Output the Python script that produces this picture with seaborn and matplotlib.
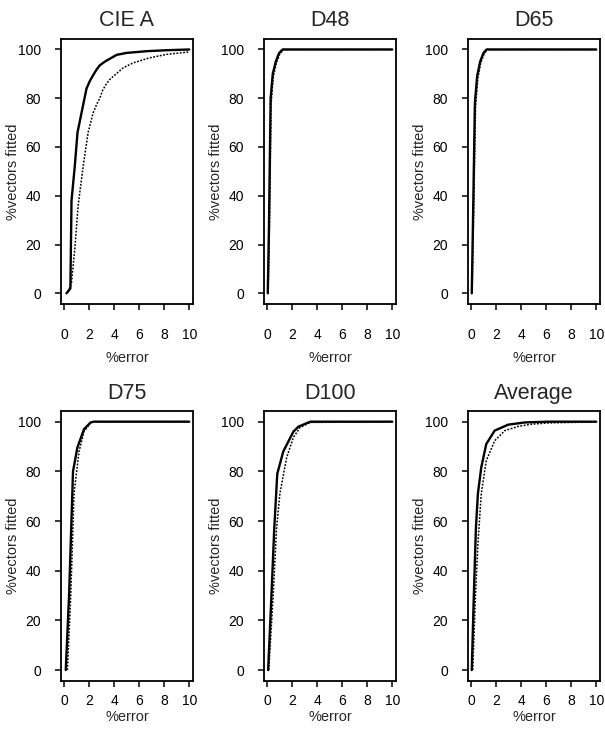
import numpy as np
import pandas as pd
import seaborn as sns
import matplotlib
matplotlib.use("Agg")
import matplotlib.pyplot as plt

# Cumulative error curves: % of vectors fitted within a given % error
panels = ["CIE A", "D48", "D65", "D75", "D100", "Average"]

ciea_err_a = [0.19, 0.5, 0.59, 0.85, 1.07, 1.39, 1.79, 2.05, 2.32, 2.6, 2.85, 3.25, 3.65, 4.2, 5.0, 6.6, 8.2, 10.0]
ciea_fit_a = [0.0, 2.0, 38.0, 52.0, 66.0, 74.0, 84.0, 87.0, 89.5, 91.8, 93.5, 95.0, 96.2, 97.8, 98.6, 99.3, 99.7, 100.0]
ciea_err_b = [0.32, 0.59, 0.85, 1.12, 1.52, 1.92, 2.32, 2.6, 2.85, 3.1, 3.39, 3.7, 4.05, 4.72, 5.52, 6.85, 8.2, 10.0]
ciea_fit_b = [0.4, 4.5, 18.0, 36.0, 52.0, 66.0, 74.0, 77.5, 80.0, 83.5, 86.0, 88.0, 89.5, 92.5, 94.5, 96.6, 98.0, 99.0]

d48_err_a = [0.05, 0.14, 0.28, 0.45, 0.69, 0.95, 1.24, 10.0]
d48_fit_a = [0.0, 25.0, 80.0, 90.0, 95.0, 98.5, 100.0, 100.0]
d48_err_b = [0.08, 0.18, 0.32, 0.5, 0.74, 1.0, 1.3, 10.0]
d48_fit_b = [0.0, 25.0, 78.0, 89.0, 94.5, 98.0, 100.0, 100.0]

d65_err_a = [0.05, 0.15, 0.3, 0.48, 0.72, 0.98, 1.23, 10.0]
d65_fit_a = [0.0, 30.0, 78.0, 89.0, 95.0, 98.5, 100.0, 100.0]
d65_err_b = [0.08, 0.19, 0.35, 0.53, 0.77, 1.02, 1.3, 10.0]
d65_fit_b = [0.0, 30.0, 76.0, 88.0, 94.5, 98.0, 100.0, 100.0]

d75_err_a = [0.13, 0.4, 0.71, 1.06, 1.59, 2.12, 2.38, 10.0]
d75_fit_a = [0.0, 30.6, 80.0, 89.6, 97.0, 99.7, 100.0, 100.0]
d75_err_b = [0.26, 0.53, 0.79, 1.19, 1.59, 2.12, 2.45, 10.0]
d75_fit_b = [0.0, 30.0, 71.0, 88.0, 96.0, 99.6, 100.0, 100.0]

d100_err_a = [0.08, 0.35, 0.57, 0.81, 1.29, 2.1, 2.5, 3.45, 10.0]
d100_fit_a = [0.0, 30.6, 57.0, 79.0, 88.0, 96.0, 98.0, 100.0, 100.0]
d100_err_b = [0.13, 0.49, 0.75, 1.02, 1.56, 2.1, 2.64, 3.45, 10.0]
d100_fit_b = [0.0, 30.6, 57.0, 71.0, 85.6, 93.7, 97.7, 99.7, 100.0]

avg_err_a = [0.05, 0.22, 0.38, 0.54, 0.81, 1.21, 1.88, 2.96, 4.3, 6.18, 10.0]
avg_fit_a = [0.0, 30.6, 57.0, 71.0, 81.6, 91.0, 96.4, 98.8, 99.7, 100.0, 100.0]
avg_err_b = [0.13, 0.35, 0.54, 0.81, 1.21, 1.88, 2.69, 3.76, 4.84, 6.18, 10.0]
avg_fit_b = [0.0, 30.6, 50.7, 71.0, 84.3, 92.3, 96.4, 98.1, 99.0, 99.5, 99.9]

curves = {
    "CIE A": (ciea_err_a, ciea_fit_a, ciea_err_b, ciea_fit_b),
    "D48": (d48_err_a, d48_fit_a, d48_err_b, d48_fit_b),
    "D65": (d65_err_a, d65_fit_a, d65_err_b, d65_fit_b),
    "D75": (d75_err_a, d75_fit_a, d75_err_b, d75_fit_b),
    "D100": (d100_err_a, d100_fit_a, d100_err_b, d100_fit_b),
    "Average": (avg_err_a, avg_fit_a, avg_err_b, avg_fit_b),
}

x_ticks = [0, 2, 4, 6, 8, 10]
y_ticks = [0, 20, 40, 60, 80, 100]

sns.set_style("ticks")
plt.rcParams["font.family"] = ["Liberation Sans", "DejaVu Sans"]
plt.rcParams["axes.linewidth"] = 1.3
plt.rcParams["xtick.major.width"] = 1.1
plt.rcParams["ytick.major.width"] = 1.1

W, H = 605, 732
fig = plt.figure(figsize=(W / 100, H / 100), dpi=100)

col_left = [61, 264, 468]
col_width = 132
rows = [(39, 304), (411, 681)]
# per-row spacing of x tick labels and x-axis label (points)
x_tick_pad = [13.5, 5.5]
x_label_pad = [6.5, 1.0]
title_pad = [9.5, 8.5]

for i, name in enumerate(panels):
    r, c = divmod(i, 3)
    top, bottom = rows[r]
    ax = fig.add_axes([col_left[c] / W, 1 - bottom / H, col_width / W, (bottom - top) / H])
    ea, fa, eb, fb = curves[name]
    sns.lineplot(x=eb, y=fb, ax=ax, color="black", linewidth=1.1,
                 linestyle=(0, (1.2, 1.0)), estimator=None, sort=False)
    sns.lineplot(x=ea, y=fa, ax=ax, color="black", linewidth=1.7,
                 estimator=None, sort=False)
    ax.set_xlim(-0.25, 10.3)
    ax.set_ylim(-4.4, 104.3)
    ax.set_xticks(x_ticks)
    ax.set_yticks(y_ticks)
    ax.tick_params(axis="both", direction="out", length=4, labelsize=10, colors="black")
    ax.tick_params(axis="x", pad=x_tick_pad[r])
    ax.tick_params(axis="y", pad=10.5)
    for s in ax.spines.values():
        s.set_visible(True)
        s.set_color("black")
    ax.set_title(name, fontsize=15.5, pad=title_pad[r])
    ax.set_xlabel("%error", fontsize=10.5, labelpad=x_label_pad[r])
    ax.set_ylabel("%vectors fitted", fontsize=10.5)
    ax.yaxis.set_label_coords(-41 / col_width, 0.5)

fig.savefig("out.png", dpi=100)
